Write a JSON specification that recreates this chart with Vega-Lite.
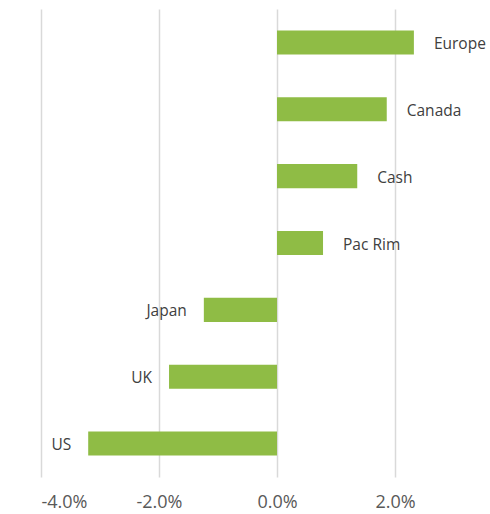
{
  "$schema": "https://vega.github.io/schema/vega-lite/v6.json",
  "autosize": "none",
  "width": 449,
  "height": 468,
  "padding": {"left": 41, "top": 9, "right": 0, "bottom": 37},
  "background": "white",
  "config": {"view": {"stroke": null}},
  "data": {"values": [
    {"region": "Europe", "value": 0.0232},
    {"region": "Canada", "value": 0.0186},
    {"region": "Cash", "value": 0.0136},
    {"region": "Pac Rim", "value": 0.0078},
    {"region": "Japan", "value": -0.0124},
    {"region": "UK", "value": -0.0183},
    {"region": "US", "value": -0.0320}
  ]},
  "encoding": {
    "y": {"field": "region", "type": "nominal", "sort": null,
      "scale": {"paddingInner": 0.64, "paddingOuter": 0.32},
      "axis": null},
    "x": {"field": "value", "type": "quantitative",
      "scale": {"domain": [-0.04, 0.0361], "nice": false, "zero": false},
      "axis": {"values": [-0.04, -0.02, 0, 0.02], "format": ".1%",
        "labelExpr": "replace(datum.label, '\u2212', '-')", "title": null,
        "domain": false, "ticks": false, "grid": true, "gridColor": "#d9d9d9", "gridWidth": 1.5,
        "labelFont": "Open Sans", "labelFontSize": 18, "labelColor": "#595959",
        "labelPadding": 16}}
  },
  "layer": [
    {"mark": {"type": "bar", "color": "#8fbc45"}},
    {"transform": [{"filter": "datum.value >= 0"}],
     "mark": {"type": "text", "align": "left", "baseline": "middle", "dx": 20, "dy": 1.5, "font": "Open Sans", "fontSize": 15.5, "color": "#404040"},
     "encoding": {"text": {"field": "region"}}},
    {"transform": [{"filter": "datum.value < 0"}],
     "mark": {"type": "text", "align": "right", "baseline": "middle", "dx": -17, "dy": 1.5, "font": "Open Sans", "fontSize": 15.5, "color": "#404040"},
     "encoding": {"text": {"field": "region"}}}
  ]
}
